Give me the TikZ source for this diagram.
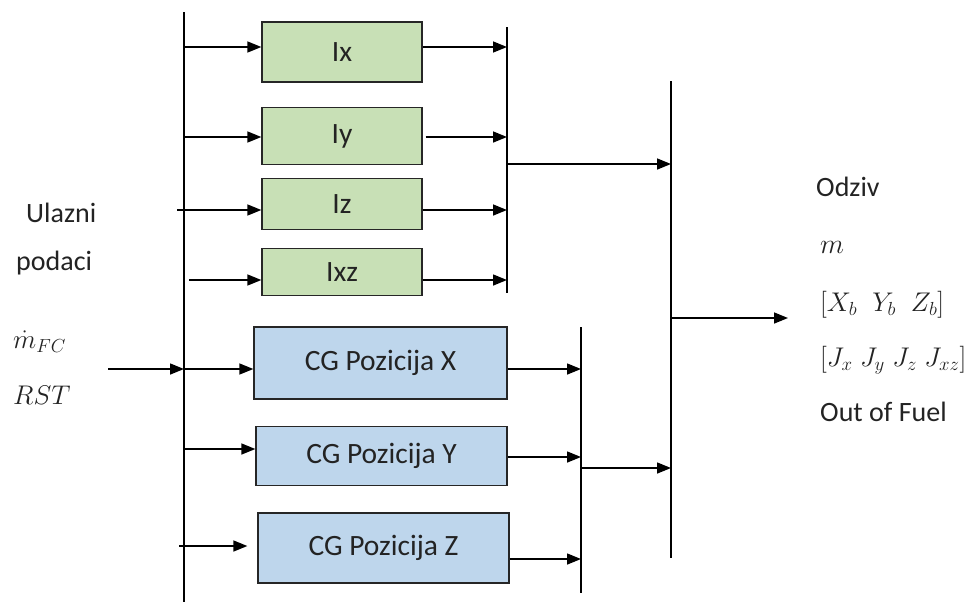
\RequirePackage{fix-cm}
\documentclass[tikz,border=0pt]{standalone}
\usepackage{fontspec}
\setmainfont{Carlito}
\usetikzlibrary{arrows.meta}
\definecolor{gfill}{RGB}{200,224,182}
\definecolor{bfill}{RGB}{190,214,236}
\definecolor{txt}{RGB}{35,35,35}
\begin{document}
\begin{tikzpicture}[x=1pt,y=-1pt,
  box/.style={draw=black!85, line width=1.3pt, inner sep=0pt, text=txt, font=\fontsize{29.5}{34}\selectfont},
  gbox/.style={box, fill=gfill},
  bbox/.style={box, fill=bfill},
  arr/.style={line width=1.5pt, -{Triangle[length=14pt,width=11pt]}},
  bus/.style={line width=1.5pt},
  lbl/.style={inner sep=0pt, anchor=base west, text=txt, font=\fontsize{28}{32}\selectfont}
]
\useasboundingbox (0,0) rectangle (965,603);

% buses
\coordinate (lbT) at (184,12);  \coordinate (lbB) at (184,602);
\coordinate (gbT) at (507,27);  \coordinate (gbB) at (507,293);
\coordinate (bbT) at (581,327); \coordinate (bbB) at (581,593);
\coordinate (mbT) at (671,81);  \coordinate (mbB) at (671,558);
\draw[bus] (lbT) -- (lbB);
\draw[bus] (gbT) -- (gbB);
\draw[bus] (bbT) -- (bbB);
\draw[bus] (mbT) -- (mbB);

% green boxes
\node[gbox, minimum width=160pt, minimum height=60pt] (ix)  at (342,52)  {Ix};
\node[gbox, minimum width=160pt, minimum height=57pt] (iy)  at (342,136) {Iy};
\node[gbox, minimum width=160pt, minimum height=51pt] (iz)  at (342,204) {Iz};
\node[gbox, minimum width=160pt, minimum height=47pt] (ixz) at (342,272) {Ixz};

% blue boxes
\node[bbox, minimum width=253pt, minimum height=72pt] (cgx) at (380.5,363) {CG Pozicija X};
\node[bbox, minimum width=251pt, minimum height=59pt] (cgy) at (381.5,456) {CG Pozicija Y};
\node[bbox, minimum width=251pt, minimum height=70pt] (cgz) at (383.5,548) {CG Pozicija Z};

% attachment points
\path ([yshift=5pt]ix.west)   coordinate (ixin)  ([yshift=5pt]ix.east)   coordinate (ixout);
\path ([yshift=-1pt]iy.west)  coordinate (iyin)  ([yshift=-1pt]iy.east)  coordinate (iyout);
\path ([yshift=-6pt]iz.west)  coordinate (izin)  ([yshift=-6pt]iz.east)  coordinate (izout);
\path ([yshift=-8pt]ixz.west) coordinate (ixzin) ([yshift=-8pt]ixz.east) coordinate (ixzout);
\path ([yshift=-6pt]cgx.west) coordinate (cgxin) ([yshift=-6pt]cgx.east) coordinate (cgxout);
\path ([yshift=7pt]cgy.west)  coordinate (cgyin) ([yshift=-1pt]cgy.east) coordinate (cgyout);
\path ([yshift=2pt]cgz.west)  coordinate (cgzin) ([yshift=-11pt]cgz.east) coordinate (cgzout);

% inputs to green boxes
\draw[arr] (ixin -| lbT) -- (ixin);
\draw[arr] (iyin -| lbT) -- (iyin);
\draw[arr] ([xshift=-7pt]izin -| lbT) -- (izin);
\draw[arr] ([xshift=5pt]ixzin -| lbT) -- (ixzin);
% outputs of green boxes
\draw[arr] (ixout) -- (ixout -| gbT);
\draw[arr] ([xshift=3pt]iyout) -- (iyout -| gbT);
\draw[arr] (izout) -- (izout -| gbT);
\draw[arr] (ixzout) -- (ixzout -| gbT);

% inputs to blue boxes
\draw[arr] (cgxin -| lbT) -- (cgxin);
\draw[arr] (cgyin -| lbT) -- (cgyin);
\draw[arr] ([xshift=-5pt]cgzin -| lbT) -- ([xshift=-10pt]cgzin);
% outputs of blue boxes
\draw[arr] (cgxout) -- (cgxout -| bbT);
\draw[arr] (cgyout) -- (cgyout -| bbT);
\draw[arr] (cgzout) -- (cgzout -| bbT);

% to main bus
\coordinate (gmid) at (507,164);
\coordinate (bmid) at (581,468);
\draw[arr] (gmid) -- (gmid -| mbT);
\draw[arr] (bmid) -- (bmid -| mbT);

% main input and output
\coordinate (inS) at (108,369);
\draw[arr] (inS) -- (inS -| lbT);
\coordinate (outS) at (671,318);
\coordinate (outE) at (788,318);
\draw[arr] (outS) -- (outE);

% left labels
\node[lbl] (l1) at (26,222) {Ulazni};
\node[lbl] (l2) at (16,270) {podaci};
\node[lbl, font=\fontsize{27}{32}\selectfont] (l3) at (13,348) {$\dot{m}_{FC}$};
\node[lbl, font=\fontsize{27}{32}\selectfont] (l4) at (13,404) {$RST$};

% right labels
\node[lbl] (r1) at (816,196) {Odziv};
\node[lbl, font=\fontsize{28}{32}\selectfont] (r2) at (820,253) {$m$};
\node[lbl, font=\fontsize{27}{32}\selectfont] (r3) at (820,311) {$[X_b\;\;Y_b\;\;Z_b]$};
\node[lbl, font=\fontsize{27}{32}\selectfont] (r4) at (820,366) {$\big[J_x\;J_y\;J_z\;J_{xz}\big]$};
\node[lbl] (r5) at (820,421) {Out of Fuel};
\end{tikzpicture}
\end{document}
